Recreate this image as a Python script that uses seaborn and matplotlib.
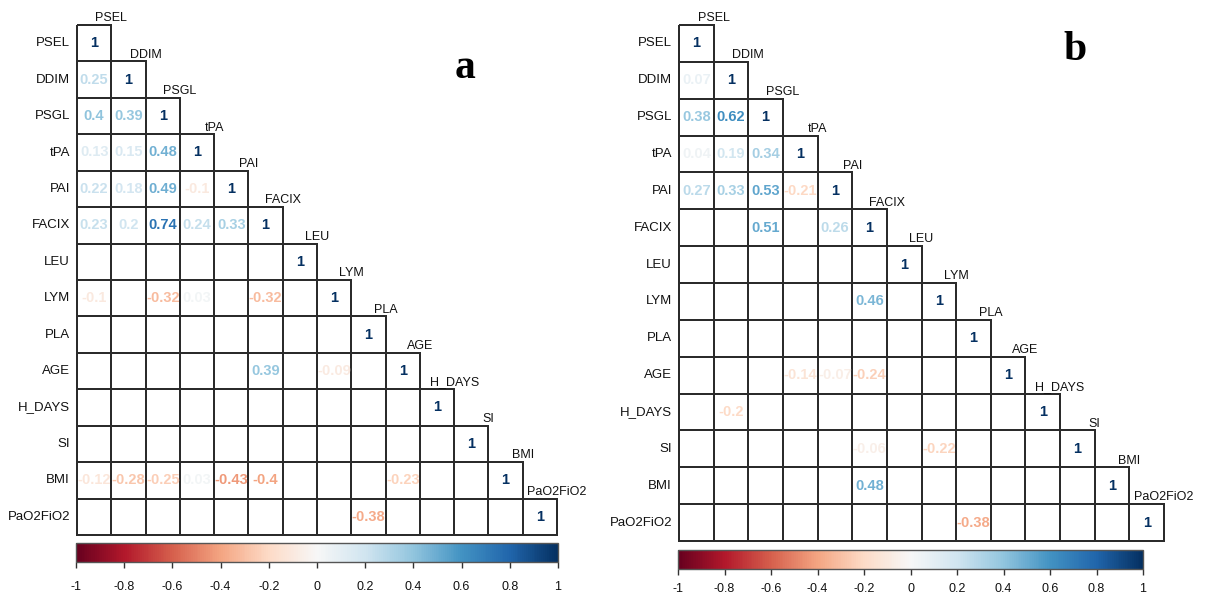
import numpy as np
import pandas as pd
import matplotlib
matplotlib.use("Agg")
import matplotlib.pyplot as plt
import seaborn as sns
from matplotlib.colors import ListedColormap, Normalize
from matplotlib.cm import ScalarMappable

sns.set_theme(style="white")
plt.rcParams['font.family'] = ['Liberation Sans', 'DejaVu Sans']

variables = ["PSEL", "DDIM", "PSGL", "tPA", "PAI", "FACIX", "LEU", "LYM",
             "PLA", "AGE", "H_DAYS", "SI", "BMI", "PaO2FiO2"]

N = None
# lower triangle rows (significant correlations only; None = blank)
corr_a = [
    [1],
    [0.25, 1],
    [0.4, 0.39, 1],
    [0.13, 0.15, 0.48, 1],
    [0.22, 0.18, 0.49, -0.1, 1],
    [0.23, 0.2, 0.74, 0.24, 0.33, 1],
    [N, N, N, N, N, N, 1],
    [-0.1, N, -0.32, 0.03, N, -0.32, N, 1],
    [N, N, N, N, N, N, N, N, 1],
    [N, N, N, N, N, 0.39, N, -0.09, N, 1],
    [N, N, N, N, N, N, N, N, N, N, 1],
    [N, N, N, N, N, N, N, N, N, N, N, 1],
    [-0.12, -0.28, -0.25, 0.03, -0.43, -0.4, N, N, N, -0.23, N, N, 1],
    [N, N, N, N, N, N, N, N, -0.38, N, N, N, N, 1],
]
corr_b = [
    [1],
    [0.07, 1],
    [0.38, 0.62, 1],
    [0.04, 0.19, 0.34, 1],
    [0.27, 0.33, 0.53, -0.21, 1],
    [N, N, 0.51, N, 0.26, 1],
    [N, N, N, N, N, N, 1],
    [N, N, N, N, N, 0.46, N, 1],
    [N, N, N, N, N, N, N, N, 1],
    [N, N, N, -0.14, -0.07, -0.24, N, N, N, 1],
    [N, -0.2, N, N, N, N, N, N, N, N, 1],
    [N, N, N, N, N, -0.06, N, -0.22, N, N, N, 1],
    [N, N, N, N, N, 0.48, N, N, N, N, N, N, 1],
    [N, N, N, N, N, N, N, N, -0.38, N, N, N, N, 1],
]
cbar_ticks = [-1, -0.8, -0.6, -0.4, -0.2, 0, 0.2, 0.4, 0.6, 0.8, 1]
panel_labels = ["a", "b"]

W, H = 1205, 597
fig = plt.figure(figsize=(W / 100, H / 100), dpi=100)
cmap = plt.get_cmap("RdBu")
norm = Normalize(-1, 1)


def to_frame(rows):
    n = len(variables)
    m = np.full((n, n), np.nan)
    for i, r in enumerate(rows):
        for j, v in enumerate(r):
            if v is not None:
                m[i, j] = v
    return pd.DataFrame(m, index=variables, columns=variables)


def fr(x0, y0, x1, y1):
    return [x0 / W, 1 - y1 / H, (x1 - x0) / W, (y1 - y0) / H]


def draw_panel(rows, box, cbox, label, label_xy, tick_pad):
    df = to_frame(rows)
    n = len(variables)
    ax = fig.add_axes(fr(*box))
    upper = np.triu(np.ones((n, n), dtype=bool), k=1)
    base = pd.DataFrame(np.zeros((n, n)), index=variables, columns=variables)
    sns.heatmap(base, mask=upper, cmap=ListedColormap(["white"]), cbar=False,
                linewidths=1.1, linecolor="#2b2b2b", ax=ax,
                xticklabels=False, yticklabels=variables)
    mesh = ax.collections[0]
    mesh.set_clip_on(False)
    edge = np.zeros((n * n, 4))
    edge[:, :3] = 0.17
    edge[:, 3] = np.where(upper.ravel(), 0.0, 1.0)
    mesh.set_edgecolor(edge)
    ax.tick_params(axis="y", length=0, pad=5, labelsize=9.5, labelcolor="#111")
    for t in ax.get_yticklabels():
        t.set_rotation(0)
    for i in range(n):
        for j in range(i + 1):
            v = df.iloc[i, j]
            if np.isnan(v):
                continue
            txt = "1" if v == 1 else f"{v:g}"
            ax.text(j + 0.5, i + 0.5, txt, ha="center", va="center",
                    fontsize=10.5, fontweight="bold", color=cmap(norm(v)))
        ax.text(i + 1, i - 0.02, variables[i], ha="center", va="bottom",
                fontsize=9, color="#111")
    ax.text(label_xy[0], label_xy[1], label, transform=fig.transFigure,
            fontsize=30, fontweight="bold", family="Liberation Serif",
            ha="center", va="center", color="black")

    cax = fig.add_axes(fr(*cbox))
    cb = fig.colorbar(ScalarMappable(norm=norm, cmap=cmap), cax=cax,
                      orientation="horizontal", ticks=cbar_ticks)
    cb.ax.set_xticklabels([f"{t:g}" for t in cbar_ticks])
    cb.outline.set_edgecolor("#555")
    cb.outline.set_linewidth(1)
    cb.ax.tick_params(axis="x", length=4, width=1, color="#333", pad=tick_pad,
                      labelsize=9, labelcolor="#111", direction="out")


draw_panel(corr_a, (77, 25, 557, 535), (76, 543, 558, 562), panel_labels[0],
           (465 / W, 1 - 68 / H), 10)
draw_panel(corr_b, (679, 25, 1164, 541), (678, 550, 1143, 569), panel_labels[1],
           (1075 / W, 1 - 50 / H), 6)

fig.savefig("out.png", dpi=100)
